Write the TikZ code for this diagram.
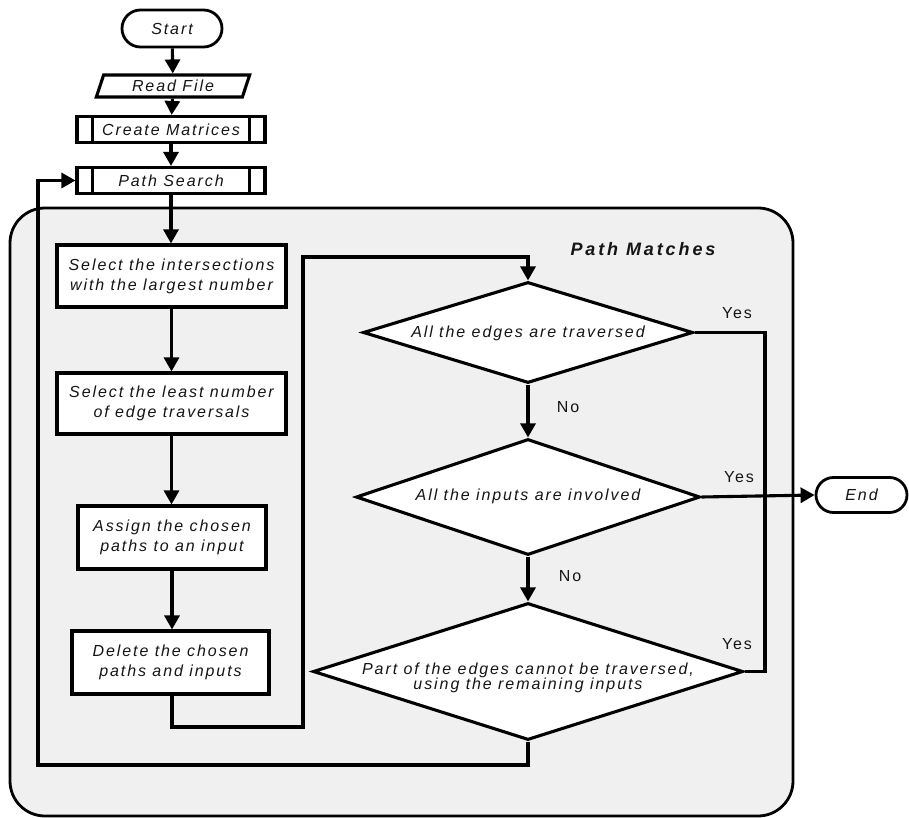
\documentclass[tikz,border=0pt]{standalone}
\usepackage{fontspec}
\setmainfont{Liberation Sans}[LetterSpace=12]
\newfontfamily\titlefont{Liberation Sans}[LetterSpace=16]
\usetikzlibrary{shapes.geometric,shapes.misc,arrows.meta}
\definecolor{panel}{HTML}{F0F0F0}
\definecolor{ink}{HTML}{151515}
\begin{document}
\begin{tikzpicture}[x=1pt,y=-1pt,
  font=\fontsize{16}{20}\selectfont, text=ink,
  lw/.style={line width=3.1pt},
  proc/.style={draw=black, fill=white, lw, font=\fontsize{16}{20}\selectfont\itshape, align=center, inner sep=0pt},
  term/.style={draw=black, fill=white, line width=2.8pt, rounded rectangle, font=\fontsize{16}{20}\selectfont\itshape, inner sep=0pt},
  dec/.style={diamond, draw=black, fill=white, lw, inner sep=0pt, aspect=3},
  dtext/.style={font=\fontsize{16}{20}\selectfont\itshape, align=center, inner sep=0pt},
  conn/.style={lw},
  arr/.style={lw, -{Triangle[length=14pt,width=15pt]}},
  yn/.style={font=\fontsize{16}{20}\selectfont, inner sep=0pt},
  panelbox/.style={draw=black, fill=panel, line width=2.8pt, rounded corners=35pt, inner sep=0pt}
]
\useasboundingbox (0,0) rectangle (909,818);

% container
\node[panelbox, minimum width=783pt, minimum height=608pt] (pm) at (401.5,512) {};
\node[font=\titlefont\fontsize{18}{22}\selectfont\bfseries\itshape, inner sep=0pt] (pmt) at (643,249) {Path Matches};

% top chain
\node[term, minimum width=100pt, minimum height=37pt] (start) at (172,28.5) {Start};
\node[trapezium, trapezium left angle=70, trapezium right angle=110, trapezium stretches=true,
      minimum width=154pt, minimum height=22pt, draw=black, fill=white, lw, inner sep=0pt,
      font=\fontsize{16}{20}\selectfont\itshape] (rf) at (173,86) {Read File};
\node[proc, minimum width=188pt, minimum height=26pt] (cm) at (171,129.5) {Create Matrices};
\node[proc, minimum width=188pt, minimum height=26pt] (ps) at (171,180.5) {Path Search};
\foreach \n in {cm,ps}{
  \draw[lw] ([xshift=17pt]\n.north west) -- ([xshift=17pt]\n.south west);
  \draw[lw] ([xshift=-17pt]\n.north east) -- ([xshift=-17pt]\n.south east);
}

% left column
\node[proc, minimum width=229pt, minimum height=62pt] (b1) at (171.5,276) {Select the intersections\\with the largest number};
\node[proc, minimum width=229pt, minimum height=61pt] (b2) at (171.5,403.5) {Select the least number\\of edge traversals};
\node[proc, minimum width=188pt, minimum height=63pt] (b3) at (172,537.5) {Assign the chosen\\paths to an input};
\node[proc, minimum width=197pt, minimum height=63pt] (b4) at (170.5,662.5) {Delete the chosen\\paths and inputs};

% decisions
\node[dec, minimum width=330pt, minimum height=101pt] (d1) at (528,332.5) {};
\node[dtext] (d1t) at (528,333) {All the edges are traversed};
\node[dec, minimum width=344pt, minimum height=116pt] (d2) at (528,497) {};
\node[dtext] (d2t) at (528,496) {All the inputs are involved};
\node[dec, minimum width=430pt, minimum height=137pt] (d3) at (528,671.5) {};
\node[dtext, font=\fontsize{16}{15}\selectfont\itshape] (d3t) at (528,678) {Part of the edges cannot be traversed,\\using the remaining inputs};

\node[term, minimum width=91pt, minimum height=35pt] (end) at (861.5,495) {End};

% labels
\node[yn] (y1) at (737,313) {Yes};
\node[yn] (n1) at (568,407) {No};
\node[yn] (y2) at (739,477) {Yes};
\node[yn] (n2) at (570,576) {No};
\node[yn] (y3) at (737,644) {Yes};

% helper coordinates
\coordinate (c1) at (172,727);
\coordinate (c2) at (303,727);
\coordinate (c3) at (303,257);
\coordinate (c4) at (528,257);
\coordinate (r1) at (765,332.5);
\coordinate (r2) at (765,671.5);
\coordinate (l1) at (528,765);
\coordinate (l2) at (38,765);
\coordinate (l3) at (38,180.5);

% connectors
\draw[arr] (start) -- (rf);
\draw[arr] (rf) -- (cm);
\draw[arr] (cm) -- (ps);
\draw[arr] (ps.south) -- (ps.south |- b1.north);
\draw[arr] (b1) -- (b2);
\draw[arr] (b2.south) -- (b2.south |- b3.north);
\draw[arr] (b3.south) -- (b3.south |- b4.north);
\draw[arr] (b4.south -| c1) -- (c1) -- (c2) -- (c3) -- (c4) -- (d1.north);
\draw[arr] (d1) -- (d2);
\draw[arr] (d2) -- (d3);
\draw[conn] (d1.east) -- (r1) -- (r2) -- (d3.east);
\draw[arr] (d2.east) -- (end.west);
\draw[arr] (d3.south) -- (l1) -- (l2) -- (l3) -- (ps.west);
\end{tikzpicture}
\end{document}
